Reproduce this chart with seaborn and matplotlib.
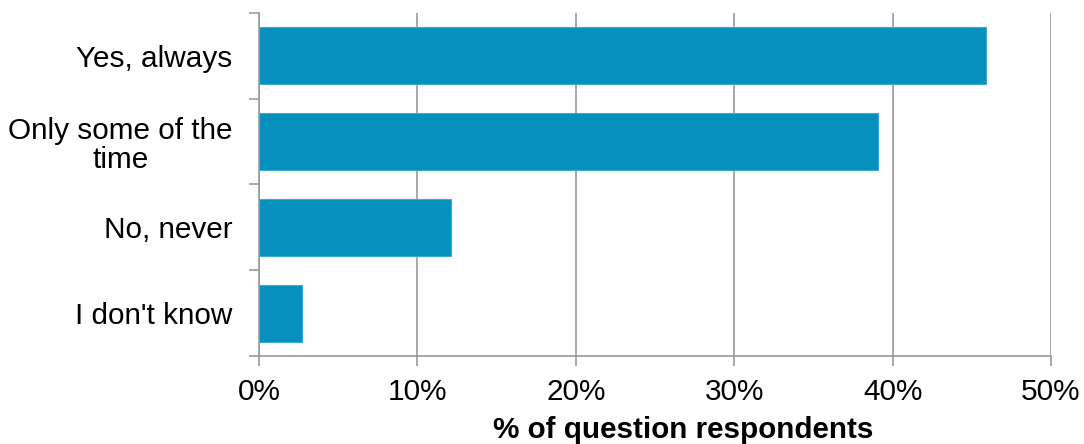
import matplotlib
matplotlib.use("Agg")
import matplotlib.pyplot as plt
import seaborn as sns
import pandas as pd
from matplotlib.ticker import FixedLocator, PercentFormatter

categories = ["Yes, always", "Only some of the\ntime", "No, never", "I don't know"]
values = [45.9, 39.1, 12.15, 2.7]
xticks = [0, 10, 20, 30, 40, 50]
xlabel = "% of question respondents"

sns.set_theme(style="white")
plt.rcParams['font.family'] = ['Liberation Sans', 'DejaVu Sans']

df = pd.DataFrame({"category": categories, "value": values})

fig = plt.figure(figsize=(10.84, 4.44), dpi=100)
ax = fig.add_axes([259/1084, 1-356/444, (1051-259)/1084, (356-13)/444])

sns.barplot(data=df, x="value", y="category", orient="h", color="#0590BE",
            saturation=1, width=0.665, edgecolor="#3AAAD6", linewidth=0.8, ax=ax)

ax.set_xlim(0, 50)
ax.set_ylim(3.5, -0.5)
ax.set_xticks(xticks)
ax.xaxis.set_major_formatter(PercentFormatter(decimals=0))
ax.grid(axis="x", color="#999999", linewidth=1.2)
ax.set_axisbelow(True)

for side in ["top", "right"]:
    ax.spines[side].set_visible(False)
for side in ["left", "bottom"]:
    ax.spines[side].set_color("#999999")
    ax.spines[side].set_linewidth(1.2)

ax.tick_params(axis="x", which="major", bottom=True, length=7, width=1.2,
               color="#999999", labelsize=21.4, pad=9, labelcolor="black")
ax.tick_params(axis="y", which="major", left=False, length=0, labelsize=21.4,
               pad=19, labelcolor="black")
ax.yaxis.set_minor_locator(FixedLocator([-0.5, 0.5, 1.5, 2.5, 3.5]))
ax.tick_params(axis="y", which="minor", left=True, length=7, width=1.2, color="#999999")
for lab in ax.get_yticklabels():
    lab.set_multialignment("center")
    lab.set_linespacing(1.05)

ax.set_ylabel("")
ax.set_xlabel(xlabel, fontsize=21.3, fontweight="bold", color="black")
ax.xaxis.set_label_coords((683-259)/(1051-259), -0.175)

fig.savefig("out.png", dpi=100, facecolor="white")
